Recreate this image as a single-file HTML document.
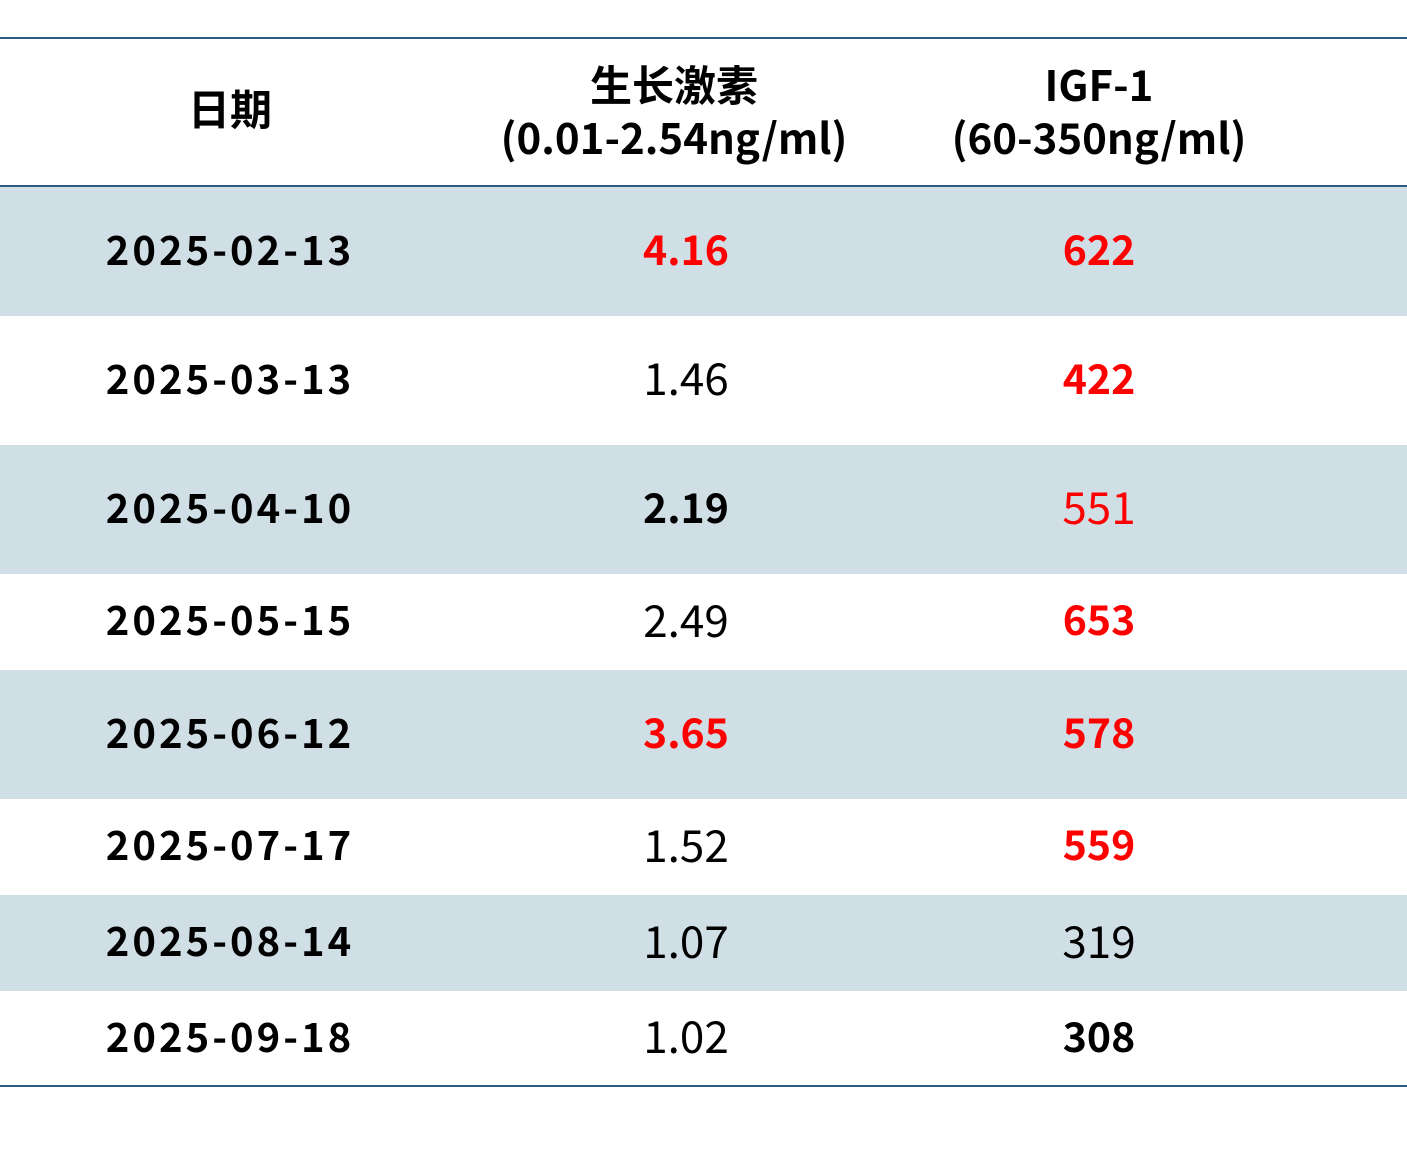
<!DOCTYPE html>
<html><head><meta charset="utf-8"><style>
body{margin:0;width:1407px;height:1170px;background:#fff;position:relative;font-family:"Noto Sans CJK SC","Liberation Sans",sans-serif;overflow:hidden}
.l{position:absolute;left:0;width:1407px;height:2px;background:#2f5a80}
.r{position:absolute;left:0;width:1407px}
.s{background:#d0dee6}
.c{position:absolute;top:0;height:100%;display:flex;align-items:center;justify-content:center;font-size:44px;color:#000;text-align:center;line-height:1.15;box-sizing:border-box;padding-bottom:8px}
.c1{left:30px;width:400px;font-weight:bold;letter-spacing:3px;font-size:40px}
.c2{left:486px;width:400px}
.c3{left:899px;width:400px}
.b{font-weight:bold;font-size:41px}.red{color:#f00}
.h{font-weight:bold;font-size:42px;line-height:53px}
</style></head><body>
<div class="l" style="top:37px"></div>
<div class="r" style="top:39px;height:146px">
<div class="c c1" style="font-size:42px;letter-spacing:0;padding-bottom:8px">日期</div>
<div class="c c2 h" style="padding-bottom:4px;left:474px">生长激素<br>(0.01-2.54ng/ml)</div>
<div class="c c3 h" style="padding-bottom:4px">IGF-1<br>(60-350ng/ml)</div>
</div>
<div class="l" style="top:185px"></div>
<div class="r s" style="top:187px;height:129px"><div class="c c1">2025-02-13</div><div class="c c2 b red">4.16</div><div class="c c3 b red">622</div></div>
<div class="r" style="top:316px;height:129px"><div class="c c1">2025-03-13</div><div class="c c2">1.46</div><div class="c c3 b red">422</div></div>
<div class="r s" style="top:445px;height:129px"><div class="c c1">2025-04-10</div><div class="c c2 b">2.19</div><div class="c c3 red">551</div></div>
<div class="r" style="top:574px;height:96px"><div class="c c1">2025-05-15</div><div class="c c2">2.49</div><div class="c c3 b red">653</div></div>
<div class="r s" style="top:670px;height:129px"><div class="c c1">2025-06-12</div><div class="c c2 b red">3.65</div><div class="c c3 b red">578</div></div>
<div class="r" style="top:799px;height:96px"><div class="c c1">2025-07-17</div><div class="c c2">1.52</div><div class="c c3 b red">559</div></div>
<div class="r s" style="top:895px;height:96px"><div class="c c1">2025-08-14</div><div class="c c2">1.07</div><div class="c c3">319</div></div>
<div class="r" style="top:991px;height:95px"><div class="c c1">2025-09-18</div><div class="c c2">1.02</div><div class="c c3 b">308</div></div>
<div class="l" style="top:1085px"></div>
</body></html>
